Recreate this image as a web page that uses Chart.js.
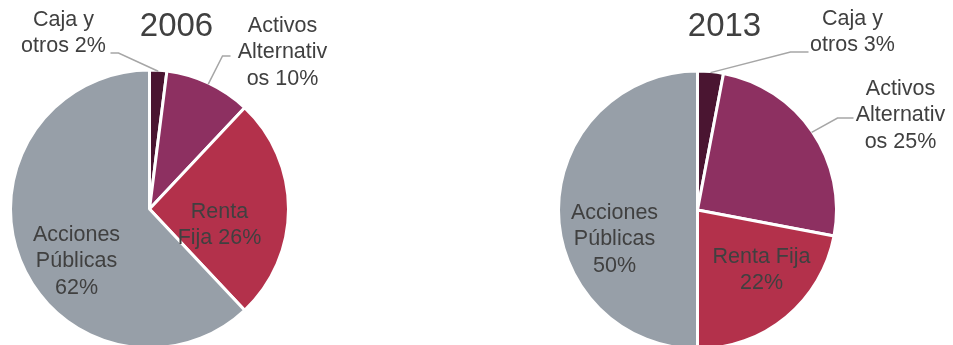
<!DOCTYPE html>
<html>
<head>
<meta charset="utf-8">
<script src="https://cdn.jsdelivr.net/npm/chart.js@4/dist/chart.umd.min.js"></script>
<style>
  html, body { margin: 0; padding: 0; background: #fff; overflow: hidden; }
  .wrap { position: absolute; left: 0; top: 0; width: 953px; height: 360px; }
</style>
</head>
<body>
<div class="wrap"><canvas id="pie2006"></canvas></div>
<div class="wrap"><canvas id="pie2013"></canvas></div>
<script>
const categories = ['Caja y otros', 'Activos Alternativos', 'Renta Fija', 'Acciones Públicas'];
const colors = ['#4a1531', '#8d3061', '#b3314b', '#979fa8'];
const values2006 = [2, 10, 26, 62];
const values2013 = [3, 25, 22, 50];
// how each slice label is broken into lines (the value % is appended to the last line)
const wrap2006 = [['Caja y', 'otros'], ['Activos', 'Alternativ', 'os'], ['Renta', 'Fija'], ['Acciones', 'Públicas', '']];
const wrap2013 = [['Caja y', 'otros'], ['Activos', 'Alternativ', 'os'], ['Renta Fija', ''], ['Acciones', 'Públicas', '']];

const textColor = '#404040';
const lineH = 26.5;

const buildLines = (wrap, values) => wrap.map((lines, i) => {
    const out = lines.slice();
    const last = out.length - 1;
    out[last] = (out[last] ? out[last] + ' ' : '') + values[i] + '%';
    return out;
});

const sliceLabels = {
    id: 'sliceLabels',
    afterDatasetsDraw(chart, args, opts) {
        const ctx = chart.ctx;
        const arcs = chart.getDatasetMeta(0).data;
        const cx = arcs[0].x, cy = arcs[0].y;
        ctx.save();
        ctx.fillStyle = textColor;
        ctx.textAlign = 'center';
        ctx.textBaseline = 'middle';

        ctx.font = '33px "Liberation Sans", Arial, sans-serif';
        ctx.fillText(opts.title, cx + opts.titlePos[0], cy + opts.titlePos[1]);

        ctx.font = '21.5px "Liberation Sans", Arial, sans-serif';
        opts.lines.forEach((lines, i) => {
            const p = opts.place[i];
            lines.forEach((t, j) => ctx.fillText(t, cx + p.dx, cy + p.dy + j * lineH));
            if (p.leader) {
                const a = arcs[i];
                const mid = (a.startAngle + a.endAngle) / 2;
                const r = a.outerRadius - 1;
                ctx.strokeStyle = '#a6a6a6';
                ctx.lineWidth = 1.5;
                ctx.beginPath();
                ctx.moveTo(a.x + Math.cos(mid) * r, a.y + Math.sin(mid) * r);
                ctx.lineTo(cx + p.leader[0], cy + p.leader[1]);
                ctx.lineTo(cx + p.leader[2], cy + p.leader[3]);
                ctx.stroke();
            }
        });
        ctx.restore();
    }
};

const pieChart = (id, title, values, wrap, padding, titlePos, place) => {
    const config = {
        type: 'pie',
        data: {
            labels: categories,
            datasets: [{
                data: values,
                backgroundColor: colors,
                borderColor: '#ffffff',
                borderWidth: 3
            }]
        },
        options: {
            responsive: true,
            maintainAspectRatio: false,
            animation: false,
            layout: { padding: padding },
            plugins: {
                legend: { display: false },
                tooltip: { enabled: false },
                sliceLabels: {
                    title: title,
                    titlePos: titlePos,
                    lines: buildLines(wrap, values),
                    place: place
                }
            }
        },
        plugins: [sliceLabels]
    };
    return new Chart(document.getElementById(id), config);
};

pieChart('pie2006', '2006', values2006, wrap2006,
    { left: 9, right: 663, top: 68, bottom: 10 },
    [27, -182],
    [
        { dx: -86, dy: -189, leader: [-31, -156, -39, -156] },
        { dx: 133, dy: -183, leader: [73, -153, 81, -153] },
        { dx: 70, dy: 3 },
        { dx: -73, dy: 26 }
    ]);

pieChart('pie2013', '2013', values2013, wrap2013,
    { left: 557, right: 115, top: 69, bottom: 9 },
    [27, -183],
    [
        { dx: 155, dy: -191, leader: [93, -158, 111, -158] },
        { dx: 203, dy: -121, leader: [140, -92, 156, -92] },
        { dx: 64, dy: 47 },
        { dx: -83, dy: 3 }
    ]);
</script>
</body>
</html>
